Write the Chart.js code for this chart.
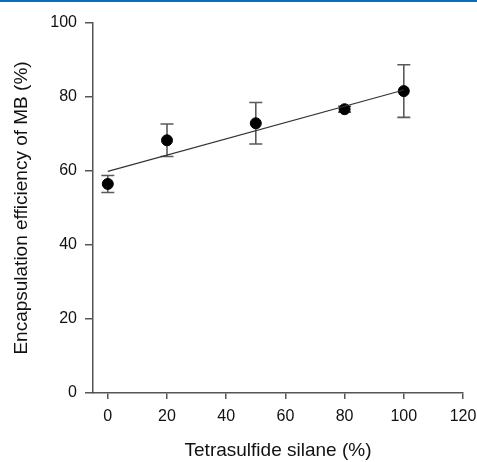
<!DOCTYPE html>
<html>
<head>
<meta charset="utf-8">
<script src="https://cdn.jsdelivr.net/npm/chart.js@4.4.1/dist/chart.umd.min.js"></script>
<style>
  html, body { margin: 0; padding: 0; background: #fff; }
  #wrap { position: relative; width: 477px; height: 462px; }
</style>
</head>
<body>
<div id="wrap"><canvas id="myChart" width="477" height="462"></canvas></div>
<script>
// silane content (%) vs encapsulation efficiency
var xValues = [0, 20, 50, 80, 100];
var yValues = [56.5, 68.3, 72.9, 76.7, 81.6];
var yErrors = [2.3, 4.4, 5.6, 0.8, 7.1];
// regression line end points
var fitX = [0, 100];
var fitY = [59.9, 81.9];
var xTicks = [0, 20, 40, 60, 80, 100, 120];
var yTicks = [0, 20, 40, 60, 80, 100];

const axisColor = "#555555";

// draws the vertical error bars with caps through the chart scales
const errorBars = {
  id: "errorBars",
  beforeDatasetsDraw(chart) {
    const ctx = chart.ctx;
    const xs = chart.scales.x, ys = chart.scales.y;
    ctx.save();
    ctx.strokeStyle = "#5a5a5a";
    ctx.lineWidth = 1.6;
    for (var i = 0; i < xValues.length; i++) {
      var px = xs.getPixelForValue(xValues[i]);
      var top = ys.getPixelForValue(yValues[i] + yErrors[i]);
      var bot = ys.getPixelForValue(yValues[i] - yErrors[i]);
      ctx.beginPath();
      ctx.moveTo(px, top); ctx.lineTo(px, bot);
      ctx.moveTo(px - 6.5, top); ctx.lineTo(px + 6.5, top);
      ctx.moveTo(px - 6.5, bot); ctx.lineTo(px + 6.5, bot);
      ctx.stroke();
    }
    ctx.restore();
  }
};

// blue rule along the top of the figure
const topRule = {
  id: "topRule",
  afterDraw(chart) {
    const ctx = chart.ctx;
    ctx.save();
    ctx.fillStyle = "#0b6db5";
    ctx.fillRect(0, 0, chart.width, 2);
    ctx.restore();
  }
};

const myChart = new Chart("myChart", {
  type: "scatter",
  data: {
    datasets: [
    {
      type: "line",
      label: "fit",
      data: fitX.map((x, i) => ({x: x, y: fitY[i]})),
      borderColor: "#333333",
      borderWidth: 1.2,
      pointRadius: 0,
      fill: false
    },
    {
      label: "MB",
      data: xValues.map((x, i) => ({x: x, y: yValues[i]})),
      backgroundColor: "#000000",
      borderColor: "#000000",
      pointRadius: 5.5,
      pointHoverRadius: 5.5
    }]
  },
  options: {
    animation: false,
    responsive: false,
    events: [],
    layout: { padding: { top: 23, right: 14, left: 0, bottom: 0 } },
    plugins: { legend: { display: false }, tooltip: { enabled: false } },
    scales: {
      x: {
        type: "linear",
        min: -5,
        max: 120,
        afterBuildTicks: function(scale) { scale.ticks = xTicks.map(v => ({value: v})); },
        afterFit: function(scale) { scale.height = 69; scale.paddingRight = 0; scale.paddingLeft = 0; },
        border: { display: true, color: axisColor, width: 1.5 },
        grid: { display: true, drawOnChartArea: false, drawTicks: true, tickLength: 6, color: axisColor, lineWidth: 1.5 },
        ticks: { color: "#111", padding: 8, maxRotation: 0, font: { family: "Liberation Sans, Arial", size: 16 } },
        title: {
          display: true,
          text: "Tetrasulfide silane (%)",
          color: "#111",
          font: { family: "Liberation Sans, Arial", size: 19 },
          padding: { top: 4, bottom: 0 }
        }
      },
      y: {
        type: "linear",
        min: 0,
        max: 100,
        afterBuildTicks: function(scale) { scale.ticks = yTicks.map(v => ({value: v})); },
        afterFit: function(scale) { scale.width = 93; },
        border: { display: true, color: axisColor, width: 1.5 },
        grid: { display: true, drawOnChartArea: false, drawTicks: true, tickLength: 8, color: axisColor, lineWidth: 1.5 },
        ticks: { color: "#111", padding: 8, font: { family: "Liberation Sans, Arial", size: 16 } },
        title: {
          display: true,
          text: "Encapsulation efficiency of MB (%)",
          color: "#111",
          font: { family: "Liberation Sans, Arial", size: 19 },
          padding: { top: 10, bottom: 0 }
        }
      }
    }
  },
  plugins: [errorBars, topRule]
});
</script>
</body>
</html>
